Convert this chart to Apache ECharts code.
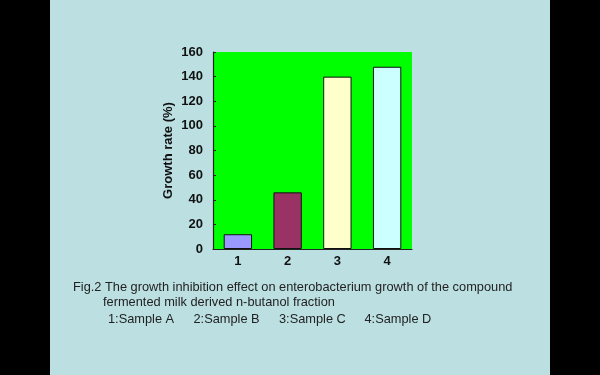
<!DOCTYPE html>
<html>
<head>
<meta charset="utf-8">
<script src="https://cdn.jsdelivr.net/npm/echarts@6/dist/echarts.min.js"></script>
<style>
  html, body { margin: 0; padding: 0; background: #000; }
  #chart { width: 600px; height: 375px; }
</style>
</head>
<body>
<div id="chart"></div>
<script>
// data
var categories = ['1', '2', '3', '4'];
var growthRate = [12, 46, 140, 148];
var barColors = ['#9999ff', '#993366', '#ffffcc', '#ccffff'];
var yTicks = { min: 0, max: 160, interval: 20 };
var captionLines = [
  'Fig.2 The growth inhibition effect on enterobacterium growth of the compound',
  'fermented milk derived n-butanol fraction'
];
var sampleKey = ['1:Sample A', '2:Sample B', '3:Sample C', '4:Sample D'];

var myChart = echarts.init(document.getElementById('chart'));

var font = 'Liberation Sans, Arial, sans-serif';
var capFont = '12.8px ' + font;

var graphics = [
  {
    type: 'rect', left: 50, top: 0, z: -10,
    shape: { width: 500, height: 375 },
    style: { fill: '#bce0e2' }
  },
  {
    type: 'text', left: 73, top: 281,
    style: { text: captionLines[0], font: capFont, fill: '#222' }
  },
  {
    type: 'text', left: 103, top: 296,
    style: { text: captionLines[1], font: capFont, fill: '#222' }
  }
];
// key line under the caption, one entry per sample
sampleKey.forEach(function (s, i) {
  graphics.push({
    type: 'text', left: 108 + i * 85.5, top: 313,
    style: { text: s, font: capFont, fill: '#222' }
  });
});

var option = {
  animation: false,
  backgroundColor: '#000000',
  graphic: graphics,
  grid: {
    left: 213, top: 52, width: 199, height: 197,
    show: true, backgroundColor: '#00ff00', borderWidth: 0
  },
  xAxis: {
    type: 'category',
    data: categories,
    axisLine: { lineStyle: { color: '#222', width: 1.2 } },
    axisTick: { show: false },
    axisLabel: { color: '#111', fontWeight: 'bold', fontSize: 13, fontFamily: font, margin: 6 }
  },
  yAxis: {
    type: 'value',
    min: yTicks.min, max: yTicks.max, interval: yTicks.interval,
    name: 'Growth rate (%)',
    nameLocation: 'middle',
    nameGap: 38,
    nameTextStyle: { color: '#111', fontWeight: 'bold', fontSize: 13, fontFamily: font },
    axisLine: { show: true, lineStyle: { color: '#222', width: 1.2 } },
    axisTick: { show: true, inside: true, length: 3, lineStyle: { color: '#222' } },
    splitLine: { show: false },
    axisLabel: { color: '#111', fontWeight: 'bold', fontSize: 13, fontFamily: font, margin: 10 }
  },
  series: [{
    type: 'bar',
    data: growthRate.map(function (v, i) {
      return { value: v, itemStyle: { color: barColors[i] } };
    }),
    barWidth: '57%',
    itemStyle: { borderColor: '#111', borderWidth: 1 }
  }]
};

myChart.setOption(option);
</script>
</body>
</html>
